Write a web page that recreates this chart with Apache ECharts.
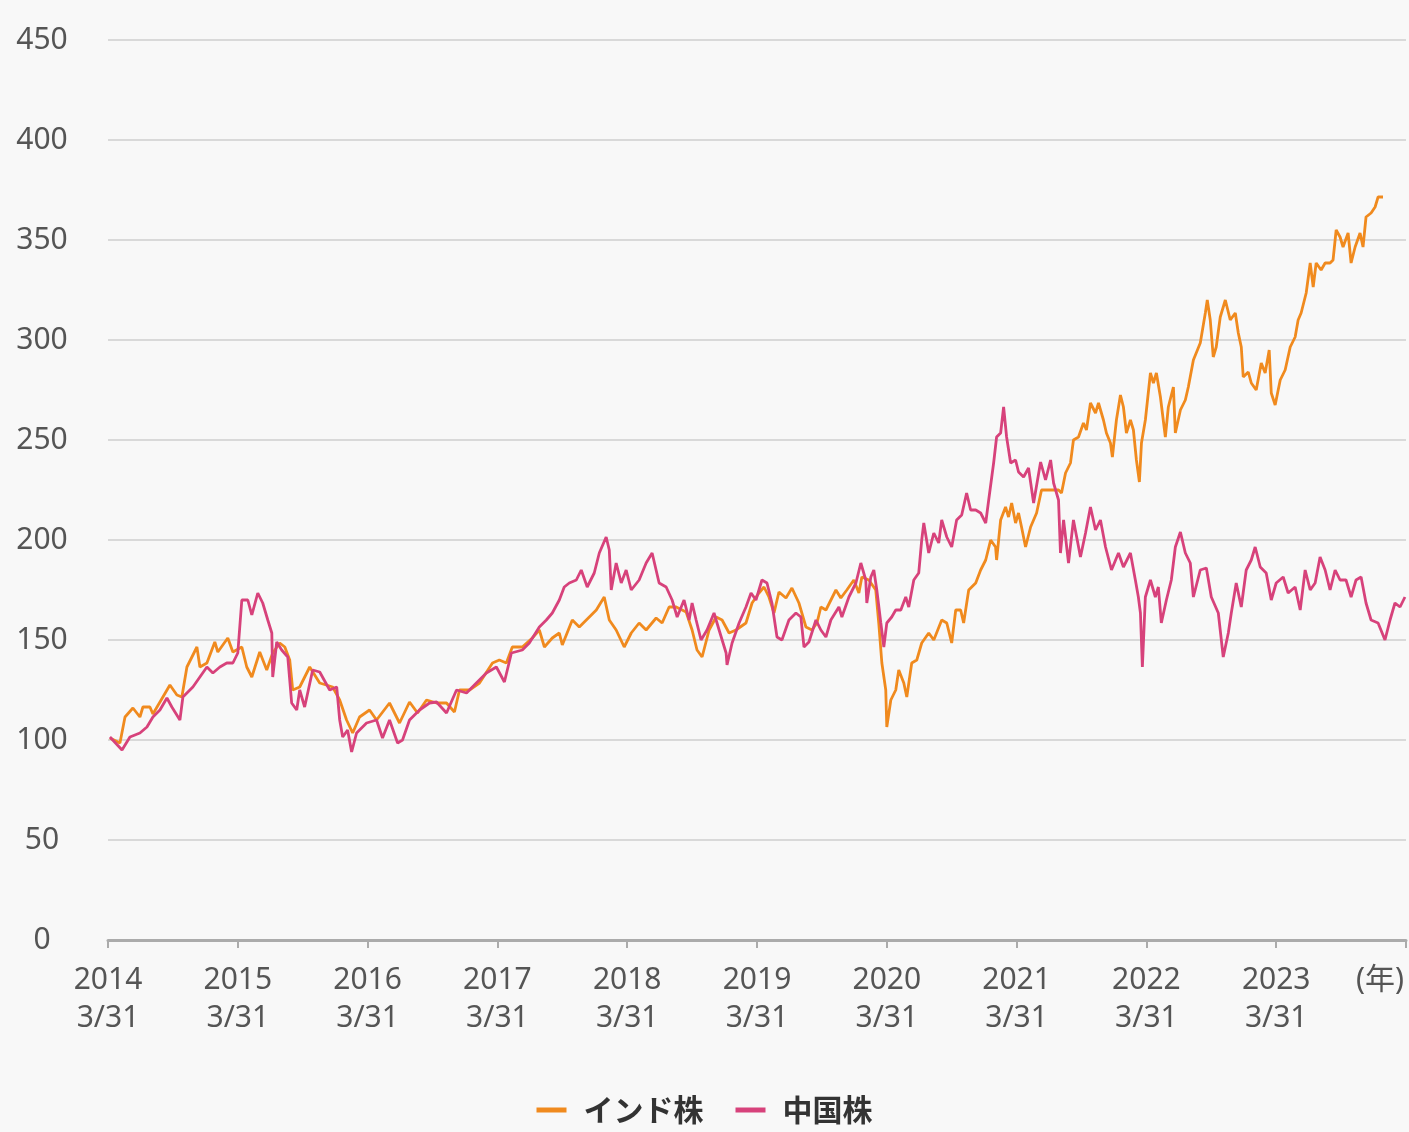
<!DOCTYPE html>
<html><head><meta charset="utf-8">
<script src="https://cdn.jsdelivr.net/npm/echarts@6/dist/echarts.min.js"></script>
<style>html,body{margin:0;padding:0;background:#f8f8f8}#c{width:1409px;height:1132px}</style>
</head><body><div id="c"></div>
<script>
// time: years elapsed since 2014/3/31
const indiaT = [0.015,0.092,0.131,0.192,0.246,0.269,0.323,0.346,0.423,0.477,0.531,0.569,0.608,0.685,0.708,0.762,0.823,0.846,0.923,0.962,1.031,1.069,1.108,1.169,1.223,1.269,1.323,1.362,1.400,1.423,1.477,1.554,1.631,1.731,1.785,1.838,1.885,1.938,2.015,2.069,2.169,2.246,2.323,2.385,2.454,2.531,2.608,2.669,2.708,2.785,2.862,2.962,3.015,3.069,3.115,3.192,3.269,3.323,3.362,3.423,3.477,3.500,3.577,3.631,3.685,3.762,3.823,3.862,3.915,3.977,4.031,4.092,4.146,4.223,4.269,4.323,4.377,4.454,4.500,4.538,4.577,4.631,4.685,4.731,4.785,4.838,4.915,4.962,5.015,5.054,5.092,5.131,5.169,5.223,5.269,5.323,5.377,5.423,5.462,5.492,5.531,5.608,5.646,5.692,5.746,5.785,5.808,5.862,5.915,5.938,5.962,5.992,6.000,6.031,6.069,6.092,6.131,6.154,6.192,6.231,6.269,6.323,6.362,6.423,6.462,6.500,6.531,6.569,6.592,6.631,6.685,6.723,6.762,6.800,6.838,6.846,6.877,6.915,6.938,6.962,6.992,7.015,7.038,7.069,7.108,7.154,7.192,7.269,7.323,7.346,7.377,7.415,7.438,7.477,7.515,7.538,7.569,7.608,7.631,7.669,7.692,7.723,7.738,7.769,7.800,7.823,7.846,7.877,7.900,7.923,7.946,7.962,7.992,8.031,8.054,8.077,8.108,8.146,8.169,8.208,8.223,8.262,8.300,8.323,8.362,8.415,8.454,8.469,8.492,8.515,8.538,8.569,8.608,8.646,8.685,8.708,8.731,8.746,8.785,8.808,8.846,8.885,8.915,8.946,8.962,8.992,9.031,9.069,9.108,9.146,9.169,9.192,9.231,9.262,9.285,9.308,9.346,9.377,9.415,9.438,9.462,9.492,9.515,9.554,9.577,9.608,9.646,9.669,9.692,9.731,9.762,9.785,9.823];
const indiaV = [101,98.5,111.5,116,111.5,116.5,116.5,113,121.5,127.5,122.5,121.5,136.5,146.5,136.5,138.5,149,144,151,144,146.5,136.5,131.5,144,135,143.5,148.5,146.5,140,125,126.5,136.5,128.5,126.5,120,110,103.5,111.5,115,110,118.5,108.5,119,113.5,120,118.5,118.5,114,125,125,128.5,138.5,140,138.5,146.5,146.5,151,155,146.5,151,153.5,147.5,160,156.5,160,165,171.5,160,155,146.5,153.5,158.5,155,161,158.5,166.5,166.5,164,155,145,141.5,155,161.5,160,153.5,155,158.5,168.5,173.5,176.5,171.5,163.5,174,171,176,168.5,156.5,155,158.5,166.5,165,175,171,175,180,173.5,181.5,180,175,158.5,138.5,125,106.5,120,125,135,128.5,121.5,138.5,140,148.5,153.5,150,160,158.5,148.5,165,165,158.5,175,178.5,185,190,200,196.5,190,210,216.5,211.5,218.5,208.5,213.5,206.5,196.5,206.5,213.5,225,225,225,223.5,233.5,238.5,250,251.5,258.5,255,268.5,263.5,268.5,260,253.5,248.5,241.5,260,272.5,266.5,253.5,260,255,240,229,248.5,260,283.5,278.5,283.5,271.5,251.5,266.5,276.5,253.5,265,270,276.5,290,298.5,313.5,320,310,291.5,296.5,311.5,320,310,313.5,303.5,296.5,281.5,284,278.5,275,288.5,283.5,295,273.5,267.5,280,285,296.5,301.5,310,313.5,323.5,338.5,326.5,338.5,335,338.5,338.5,340,355,351.5,346.5,353.5,338.5,346.5,353.5,346.5,361.5,363.5,366.5,371.5,371.5];
const chinaT = [0.015,0.108,0.169,0.246,0.300,0.346,0.400,0.454,0.492,0.554,0.577,0.654,0.708,0.762,0.808,0.862,0.915,0.962,1.000,1.031,1.077,1.108,1.154,1.192,1.231,1.262,1.269,1.300,1.338,1.385,1.415,1.454,1.477,1.515,1.577,1.631,1.708,1.762,1.785,1.808,1.846,1.877,1.915,1.992,2.069,2.115,2.169,2.231,2.269,2.323,2.400,2.477,2.531,2.608,2.685,2.762,2.838,2.915,2.992,3.054,3.108,3.192,3.246,3.323,3.377,3.423,3.477,3.515,3.554,3.608,3.646,3.692,3.746,3.785,3.838,3.862,3.877,3.915,3.954,3.992,4.031,4.092,4.146,4.192,4.246,4.300,4.346,4.385,4.438,4.477,4.500,4.531,4.569,4.615,4.669,4.708,4.762,4.769,4.808,4.862,4.915,4.954,4.992,5.038,5.077,5.115,5.154,5.192,5.246,5.300,5.338,5.362,5.400,5.454,5.492,5.531,5.569,5.631,5.654,5.708,5.762,5.800,5.838,5.846,5.877,5.900,5.923,5.954,5.977,6.000,6.038,6.069,6.108,6.146,6.169,6.208,6.246,6.269,6.285,6.323,6.362,6.400,6.423,6.462,6.500,6.538,6.577,6.615,6.646,6.685,6.723,6.762,6.785,6.823,6.846,6.877,6.900,6.923,6.954,6.992,7.015,7.054,7.092,7.131,7.185,7.223,7.262,7.285,7.323,7.338,7.362,7.400,7.438,7.492,7.531,7.569,7.608,7.646,7.685,7.731,7.785,7.823,7.877,7.915,7.938,7.954,7.969,7.992,8.031,8.069,8.092,8.115,8.154,8.192,8.223,8.262,8.300,8.338,8.362,8.415,8.462,8.500,8.554,8.592,8.631,8.654,8.692,8.731,8.769,8.808,8.838,8.877,8.923,8.962,9.000,9.054,9.092,9.146,9.185,9.223,9.262,9.300,9.338,9.377,9.415,9.454,9.492,9.538,9.577,9.615,9.654,9.692,9.731,9.785,9.838,9.877,9.915,9.954,9.992];
const chinaV = [101.5,95,101.5,103.5,106.5,111.5,115,121,116.5,110,121.5,126.5,131.5,136.5,133.5,136.5,138.5,138.5,143.5,170,170,162.5,173.5,168.5,160,153.5,131.5,149,145,141.5,118.5,115,125,116.5,135,134,125,126.5,110,101.5,105,94,103.5,108.5,110,101,110,98.5,100,110,115,118.5,119,113.5,125,123.5,128.5,133.5,136.5,129,143.5,145,148.5,156.5,160,163.5,170,176.5,178.5,180,185,176.5,183.5,193.5,201.5,195,175,188.5,178.5,185,175,180,188.5,193.5,178.5,176.5,170,161.5,170,160,168.5,160,150,155,163.5,155,143.5,137.5,148.5,158.5,166.5,173.5,170,180,178.5,168.5,151.5,150,160,163.5,161.5,146.5,149,160,155,151.5,160,166.5,161.5,171.5,178.5,188.5,180,168.5,181.5,185,175,158.5,146.5,158.5,161.5,165,165,171.5,166.5,180,183.5,200,208.5,193.5,203.5,198.5,210,201.5,196.5,210,212.5,223.5,215,215,213.5,208.5,220,238.5,251.5,253.5,266.5,251.5,238.5,240,234,231.5,236,218.5,239,230,240,228.5,220,193.5,210,188.5,210,191.5,203.5,216.5,205,210,196.5,185,193.5,186.5,193.5,180,171.5,163.5,136.5,171.5,180,171.5,176.5,158.5,170,180,196.5,204,193.5,188.5,171.5,185,186,171.5,163.5,141.5,153.5,163.5,178.5,166.5,185,190,196.5,186.5,183.5,170,178.5,181.5,173.5,176.5,165,185,175,178.5,191.5,185,175,185,180,180,171.5,180,181.5,168.5,160,158.5,150,160,168.5,166.5,171.5];
const seriesNames = ['インド株', '中国株'];
const yearLabels = ['2014','2015','2016','2017','2018','2019','2020','2021','2022','2023'];
const dayLabel = '3/31';
const unitLabel = '(年)';

const zip = (t, v) => t.map((x, i) => [x, v[i]]);
const numFont = "'Noto Sans', 'Noto Sans CJK JP', sans-serif";
const chart = echarts.init(document.getElementById('c'));
chart.setOption({
  backgroundColor: '#f8f8f8',
  animation: false,
  grid: { left: 108, right: 1, top: 40, bottom: 192 },
  legend: {
    bottom: 2, left: 'center', itemWidth: 30, itemHeight: 5, itemGap: 32, icon: 'rect',
    textStyle: { fontSize: 30, fontWeight: 'bold', color: '#333', fontFamily: "'Noto Sans CJK JP', sans-serif", padding: [0, 0, 0, 12] },
    data: seriesNames
  },
  xAxis: {
    type: 'value', min: 0, max: 10, interval: 1,
    splitLine: { show: false },
    axisLine: { show: true, lineStyle: { color: '#ababab', width: 3 } },
    axisTick: { show: true, length: 8, lineStyle: { color: '#ababab', width: 2 } },
    axisLabel: {
      margin: 21, fontSize: 30, lineHeight: 38, color: '#555', fontFamily: numFont,
      formatter: v => (v < yearLabels.length ? yearLabels[v] + '\n' + dayLabel : '')
    }
  },
  yAxis: {
    type: 'value', min: 0, max: 450, interval: 50,
    axisLine: { show: false }, axisTick: { show: false },
    splitLine: { lineStyle: { color: '#cfcfcf', width: 1.5 } },
    axisLabel: { margin: 66, align: 'center', fontSize: 30, color: '#555', fontFamily: numFont }
  },
  graphic: [{
    type: 'text', left: 1356, top: 965,
    style: { text: unitLabel, fill: '#555', font: "30px 'Noto Sans', 'Noto Sans CJK JP', sans-serif" }
  }],
  series: [
    { name: seriesNames[0], type: 'line', data: zip(indiaT, indiaV), showSymbol: false, symbol: 'none',
      lineStyle: { color: '#F08A1E', width: 2.8 }, itemStyle: { color: '#F08A1E' } },
    { name: seriesNames[1], type: 'line', data: zip(chinaT, chinaV), showSymbol: false, symbol: 'none',
      lineStyle: { color: '#D7427B', width: 2.8 }, itemStyle: { color: '#D7427B' } }
  ]
});
</script></body></html>
